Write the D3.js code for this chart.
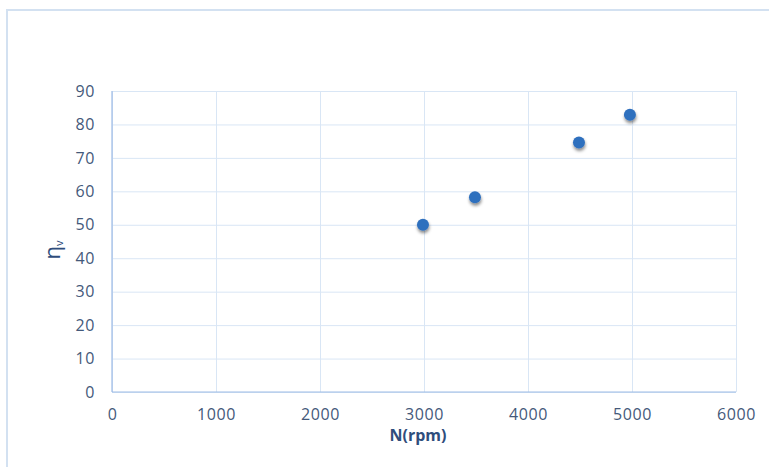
<!DOCTYPE html>
<html>
<head>
<meta charset="utf-8">
<script src="https://cdn.jsdelivr.net/npm/d3@7"></script>
<style>
  html, body { margin: 0; padding: 0; background: #fff; }
  svg { display: block; }
</style>
</head>
<body>
<svg id="chart" width="769" height="467"></svg>
<script>
// Volumetric efficiency vs engine speed
const speeds = [2990, 3490, 4490, 4980];           // N (rpm)
const efficiency = [50, 58.2, 74.6, 82.9];         // η_v
const xTicks = [0, 1000, 2000, 3000, 4000, 5000, 6000];
const yTicks = [0, 10, 20, 30, 40, 50, 60, 70, 80, 90];

const svg = d3.select("#chart");
const W = 769, H = 467;
const plot = { left: 112, right: 736, top: 91, bottom: 392 };

// outer chart frame
svg.append("rect")
  .attr("x", 7).attr("y", 10)
  .attr("width", W + 10).attr("height", H + 10)
  .attr("fill", "#fff")
  .attr("stroke", "#d3e1f1").attr("stroke-width", 2);

const x = d3.scaleLinear().domain([0, 6000]).range([plot.left, plot.right]);
const y = d3.scaleLinear().domain([0, 90]).range([plot.bottom, plot.top]);

const defs = svg.append("defs");
const f = defs.append("filter").attr("id", "shadow")
  .attr("x", "-80%").attr("y", "-80%").attr("width", "260%").attr("height", "260%");
f.append("feDropShadow").attr("dx", 0.5).attr("dy", 2.5)
  .attr("stdDeviation", 1.8).attr("flood-color", "#000").attr("flood-opacity", 0.45);

const labelFont = "'Open Sans', sans-serif";
const labelColor = "#44597a";

// gridlines
svg.append("g")
  .attr("transform", `translate(0,${plot.bottom})`)
  .call(d3.axisBottom(x).tickValues(xTicks).tickSize(-(plot.bottom - plot.top)).tickFormat(""))
  .call(g => g.select(".domain").remove())
  .call(g => g.selectAll("line").attr("stroke", "#d9e6f5").attr("stroke-width", 1));

svg.append("g")
  .attr("transform", `translate(${plot.left},0)`)
  .call(d3.axisLeft(y).tickValues(yTicks).tickSize(-(plot.right - plot.left)).tickFormat(""))
  .call(g => g.select(".domain").remove())
  .call(g => g.selectAll("line").attr("stroke", "#d9e6f5").attr("stroke-width", 1));

// axis lines
svg.append("line")
  .attr("x1", plot.left).attr("x2", plot.right)
  .attr("y1", plot.bottom).attr("y2", plot.bottom)
  .attr("stroke", "#9dbbe6").attr("stroke-width", 1.2);
svg.append("line")
  .attr("x1", plot.left).attr("x2", plot.left)
  .attr("y1", plot.top).attr("y2", plot.bottom)
  .attr("stroke", "#9dbbe6").attr("stroke-width", 1.2);

// tick labels
const xAxis = svg.append("g")
  .attr("transform", `translate(0,${plot.bottom})`)
  .call(d3.axisBottom(x).tickValues(xTicks).tickSize(0).tickPadding(17).tickFormat(d3.format("d")));
xAxis.select(".domain").remove();
xAxis.selectAll("text")
  .attr("font-family", labelFont).attr("font-size", 16)
  .attr("fill", labelColor).attr("letter-spacing", 0.6);

const yAxis = svg.append("g")
  .attr("transform", `translate(${plot.left},0)`)
  .call(d3.axisLeft(y).tickValues(yTicks).tickSize(0).tickPadding(17).tickFormat(d3.format("d")));
yAxis.select(".domain").remove();
yAxis.selectAll("text")
  .attr("font-family", labelFont).attr("font-size", 16)
  .attr("fill", labelColor).attr("letter-spacing", 0.6);

// axis titles
svg.append("text")
  .attr("x", 418).attr("y", 441)
  .attr("text-anchor", "middle")
  .attr("font-family", labelFont).attr("font-size", 16).attr("font-weight", "bold")
  .attr("fill", "#2f4d7c")
  .text("N(rpm)");

const yTitle = svg.append("text")
  .attr("transform", "translate(60,250) rotate(-90)")
  .attr("text-anchor", "middle")
  .attr("font-family", labelFont).attr("fill", "#2f4d7c");
yTitle.append("tspan").attr("font-size", 22).text("η");
yTitle.append("tspan").attr("font-size", 11).attr("dy", 3).text("v");

// data points
svg.append("g")
  .selectAll("circle")
  .data(speeds.map((s, i) => ({ s, e: efficiency[i] })))
  .join("circle")
  .attr("cx", d => x(d.s))
  .attr("cy", d => y(d.e))
  .attr("r", 6)
  .attr("fill", "#2f6fbe")
  .attr("filter", "url(#shadow)");
</script>
</body>
</html>
